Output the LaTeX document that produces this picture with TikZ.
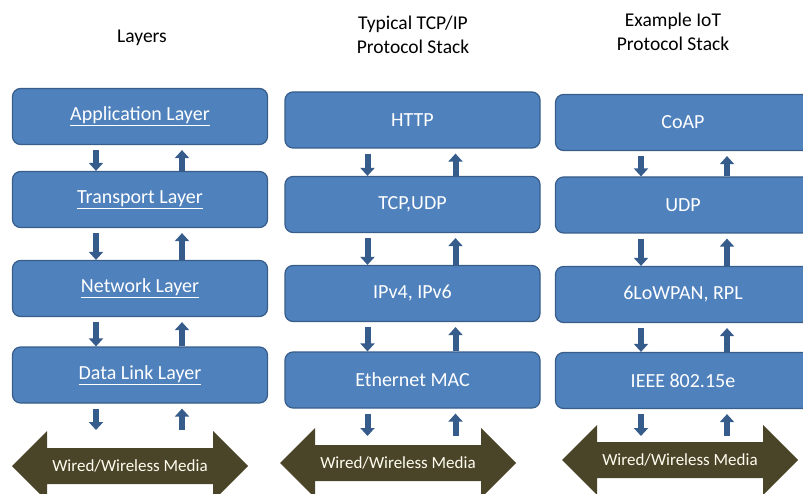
\documentclass[tikz,border=0pt]{standalone}
\usepackage{fontspec}
\setmainfont{Carlito}
\usetikzlibrary{arrows.meta}
\definecolor{layerblue}{RGB}{79,129,189}
\definecolor{layeredge}{RGB}{56,93,138}
\definecolor{flowblue}{RGB}{54,92,140}
\definecolor{mediaolive}{RGB}{74,68,40}
\begin{document}
\begin{tikzpicture}[
        x=1pt, y=-1pt,
        layer/.style={
            rectangle,
            draw=layeredge,
            line width=1.2pt,
            rounded corners=8pt,
            fill=layerblue,
            text=white,
            minimum width=255pt,
            minimum height=56pt,
            font=\fontsize{20}{24}\selectfont
        },
        title/.style={
            align=center,
            text=black,
            font=\fontsize{19.5}{24}\selectfont
        },
        medtext/.style={
            text=white!94!yellow,
            font=\fontsize{17}{20}\selectfont
        },
        dnarr/.style={-{Triangle[width=14pt,length=8pt]}, line width=6pt, draw=flowblue, shorten <=5pt},
        uparr/.style={-{Triangle[width=14pt,length=8pt]}, line width=6pt, draw=flowblue, shorten >=5pt}
    ]

    \clip (0,0) rectangle (803,494);

    \node[title] (t1) at (142, 38) {Layers};
    \node[title] (t2) at (413, 35) {Typical TCP/IP\\Protocol Stack};
    \node[title] (t3) at (673, 32) {Example IoT\\Protocol Stack};

    \node[layer] (app) at (140, 116.5) {\underline{Application Layer}};
    \node[layer] (tra) at (140, 199.5) {\underline{Transport Layer}};
    \node[layer] (net) at (140, 288.5) {\underline{Network Layer}};
    \node[layer] (dll) at (140, 375)   {\underline{Data Link Layer}};

    \node[layer] (http) at (412.5, 120)   {HTTP};
    \node[layer] (tcp)  at (412.5, 204.5) {TCP,UDP};
    \node[layer] (ip)   at (412.5, 293.5) {IPv4, IPv6};
    \node[layer] (eth)  at (412.5, 380)   {Ethernet MAC};

    \node[layer] (coap) at (683, 122.5) {CoAP};
    \node[layer] (udp)  at (683, 205)   {UDP};
    \node[layer] (lowp) at (683, 294.5) {6LoWPAN, RPL};
    \node[layer] (ieee) at (683, 380.5) {IEEE 802.15e};

    \foreach \mx/\my/\n in {130/466/1, 398/463/2, 680/460/3} {
        \fill[mediaolive] ({\mx-118},\my) -- ({\mx-83},{\my-35}) -- ({\mx-83},{\my-18})
            -- ({\mx+83},{\my-18}) -- ({\mx+83},{\my-35}) -- ({\mx+118},\my)
            -- ({\mx+83},{\my+35}) -- ({\mx+83},{\my+18}) -- ({\mx-83},{\my+18})
            -- ({\mx-83},{\my+35}) -- cycle;
        \node[medtext] (media\n) at (\mx,\my) {Wired/Wireless Media};
    }
    \coordinate (top1) at (140, 430);
    \coordinate (top2) at (412.5, 436);
    \coordinate (top3) at (683, 436);

    \draw[dnarr] ([xshift=-44pt]app.south) -- ([xshift=-44pt]tra.north);
    \draw[uparr] ([xshift=42pt]tra.north) -- ([xshift=42pt]app.south);
    \draw[dnarr] ([xshift=-44pt]tra.south) -- ([xshift=-44pt]net.north);
    \draw[uparr] ([xshift=42pt]net.north) -- ([xshift=42pt]tra.south);
    \draw[dnarr] ([xshift=-44pt]net.south) -- ([xshift=-44pt]dll.north);
    \draw[uparr] ([xshift=42pt]dll.north) -- ([xshift=42pt]net.south);
    \draw[dnarr] ([xshift=-44pt]dll.south) -- ([xshift=-44pt]top1);
    \draw[uparr] ([xshift=42pt]top1) -- ([xshift=42pt]dll.south);

    \draw[dnarr] ([xshift=-45pt]http.south) -- ([xshift=-45pt]tcp.north);
    \draw[uparr] ([xshift=43pt]tcp.north) -- ([xshift=43pt]http.south);
    \draw[dnarr] ([xshift=-45pt]tcp.south) -- ([xshift=-45pt]ip.north);
    \draw[uparr] ([xshift=43pt]ip.north) -- ([xshift=43pt]tcp.south);
    \draw[dnarr] ([xshift=-45pt]ip.south) -- ([xshift=-45pt]eth.north);
    \draw[uparr] ([xshift=43pt]eth.north) -- ([xshift=43pt]ip.south);
    \draw[dnarr] ([xshift=-45pt]eth.south) -- ([xshift=-45pt]top2);
    \draw[uparr] ([xshift=43pt]top2) -- ([xshift=43pt]eth.south);

    \draw[dnarr] ([xshift=-42pt]coap.south) -- ([xshift=-42pt]udp.north);
    \draw[uparr] ([xshift=44pt]udp.north) -- ([xshift=44pt]coap.south);
    \draw[dnarr] ([xshift=-42pt]udp.south) -- ([xshift=-42pt]lowp.north);
    \draw[uparr] ([xshift=44pt]lowp.north) -- ([xshift=44pt]udp.south);
    \draw[dnarr] ([xshift=-42pt]lowp.south) -- ([xshift=-42pt]ieee.north);
    \draw[uparr] ([xshift=44pt]ieee.north) -- ([xshift=44pt]lowp.south);
    \draw[dnarr] ([xshift=-42pt]ieee.south) -- ([xshift=-42pt]top3);
    \draw[uparr] ([xshift=44pt]top3) -- ([xshift=44pt]ieee.south);

    \end{tikzpicture}
\end{document}
